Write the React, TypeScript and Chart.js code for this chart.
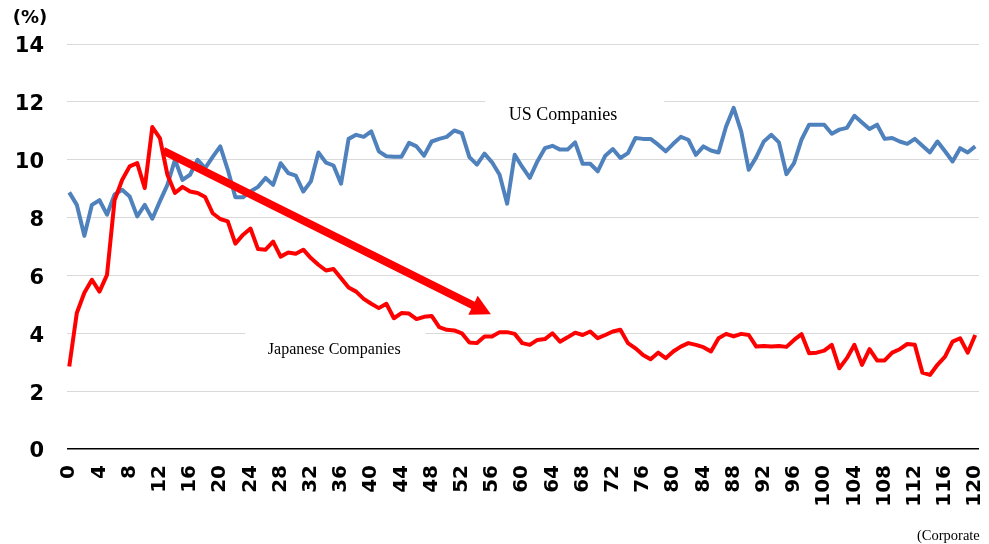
import React, { useEffect, useRef } from "react";
import { Chart, registerables } from "chart.js";

Chart.register(...registerables);

// Categories (years / index 0..120)
const ages: number[] = Array.from({ length: 121 }, (_, i) => i);

// US Companies (%)
const usValues: number[] = [
  8.87, 8.44, 7.37, 8.44, 8.6, 8.1, 8.8, 8.96, 8.73, 8.04,
  8.44, 7.96, 8.56, 9.13, 10.0, 9.3, 9.48, 10.0, 9.71, 10.1,
  10.46, 9.65, 8.7, 8.7, 8.9, 9.06, 9.37, 9.13, 9.88, 9.54,
  9.45, 8.9, 9.25, 10.25, 9.9, 9.8, 9.17, 10.72, 10.86, 10.79,
  10.98, 10.29, 10.12, 10.1, 10.1, 10.58, 10.46, 10.14, 10.63, 10.72,
  10.79, 11.01, 10.92, 10.09, 9.83, 10.21, 9.91, 9.48, 8.48, 10.17,
  9.75, 9.37, 9.94, 10.4, 10.48, 10.35, 10.35, 10.6, 9.86, 9.86,
  9.6, 10.14, 10.37, 10.06, 10.23, 10.75, 10.72, 10.72, 10.52, 10.29,
  10.55, 10.79, 10.69, 10.17, 10.46, 10.32, 10.25, 11.15, 11.79, 10.98,
  9.65, 10.09, 10.63, 10.86, 10.6, 9.5, 9.88, 10.7, 11.21, 11.21,
  11.21, 10.9, 11.04, 11.1, 11.52, 11.29, 11.06, 11.21, 10.72, 10.75,
  10.63, 10.55, 10.72, 10.48, 10.25, 10.63, 10.29, 9.94, 10.4, 10.25,
  10.46,
];

// Japanese Companies (%)
const jpValues: number[] = [
  2.85, 4.7, 5.4, 5.85, 5.44, 6.02, 8.6, 9.3, 9.77, 9.88,
  9.02, 11.13, 10.75, 9.48, 8.85, 9.06, 8.9, 8.85, 8.71, 8.15,
  7.95, 7.87, 7.1, 7.4, 7.62, 6.91, 6.89, 7.17, 6.65, 6.79,
  6.75, 6.89, 6.6, 6.37, 6.17, 6.22, 5.9, 5.58, 5.44, 5.19,
  5.02, 4.87, 5.02, 4.52, 4.7, 4.68, 4.49, 4.57, 4.6, 4.21,
  4.12, 4.1, 4.0, 3.68, 3.66, 3.89, 3.89, 4.04, 4.04, 3.98,
  3.66, 3.6, 3.77, 3.8, 4.0, 3.71, 3.86, 4.02, 3.94, 4.06,
  3.83, 3.94, 4.06, 4.12, 3.66, 3.48, 3.25, 3.1, 3.33, 3.14,
  3.37, 3.54, 3.66, 3.6, 3.52, 3.37, 3.83, 3.98, 3.89, 3.98,
  3.94, 3.54, 3.56, 3.54, 3.56, 3.53, 3.77, 3.97, 3.31, 3.33,
  3.4, 3.6, 2.79, 3.14, 3.6, 2.91, 3.45, 3.06, 3.06, 3.33,
  3.45, 3.63, 3.6, 2.64, 2.56, 2.91, 3.19, 3.71, 3.83, 3.33,
  3.94,
];

// Y axis range / step
const yMin = 0;
const yMax = 14;
const yStep = 2;
const xStep = 4;

// Annotation anchors in data units
const arrowFrom: [number, number] = [12.45, 10.31];
const arrowTo: [number, number] = [55.85, 4.66];

const usLabel = { text: "US Companies", x: 65.4, y: 11.38, box: [55.1, 78.8, 12.35, 11.0] };
const jpLabel = { text: "Japanese Companies", x: 35.1, y: 3.29, box: [23.3, 47.2, 4.3, 2.9] };

const unitLabel = "(%)";
const sourceLabel = "(Corporate";

const annotatePlugin = {
  id: "annotate",
  beforeDatasetsDraw(chart: any) {
    const { ctx, scales } = chart;
    const x = scales.x;
    const y = scales.y;
    ctx.save();
    ctx.fillStyle = "#ffffff";
    for (const l of [usLabel, jpLabel]) {
      const x0 = x.getPixelForValue(l.box[0]);
      const x1 = x.getPixelForValue(l.box[1]);
      const y0 = y.getPixelForValue(l.box[2]);
      const y1 = y.getPixelForValue(l.box[3]);
      ctx.fillRect(x0, y0, x1 - x0, y1 - y0);
    }
    ctx.fillStyle = "#000000";
    ctx.textAlign = "center";
    ctx.textBaseline = "alphabetic";
    ctx.font = '18px "Liberation Serif", "Times New Roman", serif';
    ctx.fillText(usLabel.text, x.getPixelForValue(usLabel.x), y.getPixelForValue(usLabel.y));
    ctx.font = '16px "Liberation Serif", "Times New Roman", serif';
    ctx.fillText(jpLabel.text, x.getPixelForValue(jpLabel.x), y.getPixelForValue(jpLabel.y));
    ctx.restore();
  },
  afterDatasetsDraw(chart: any) {
    const { ctx, scales } = chart;
    const x = scales.x;
    const y = scales.y;
    const px0 = x.getPixelForValue(arrowFrom[0]);
    const py0 = y.getPixelForValue(arrowFrom[1]);
    const px1 = x.getPixelForValue(arrowTo[0]);
    const py1 = y.getPixelForValue(arrowTo[1]);
    const ang = Math.atan2(py1 - py0, px1 - px0);
    const headLen = 20;
    const half = 10.5;
    const bx = px1 - headLen * Math.cos(ang);
    const by = py1 - headLen * Math.sin(ang);
    ctx.save();
    ctx.strokeStyle = "#ff0000";
    ctx.fillStyle = "#ff0000";
    ctx.lineWidth = 8;
    ctx.lineCap = "butt";
    ctx.beginPath();
    ctx.moveTo(px0, py0);
    ctx.lineTo(bx + Math.cos(ang), by + Math.sin(ang));
    ctx.stroke();
    ctx.beginPath();
    ctx.moveTo(px1, py1);
    ctx.lineTo(bx - half * Math.sin(ang), by + half * Math.cos(ang));
    ctx.lineTo(bx + half * Math.sin(ang), by - half * Math.cos(ang));
    ctx.closePath();
    ctx.fill();
    ctx.restore();
  },
  afterDraw(chart: any) {
    const { ctx } = chart;
    ctx.save();
    ctx.fillStyle = "#000000";
    ctx.textAlign = "center";
    ctx.textBaseline = "middle";
    ctx.font = 'bold 18px "DejaVu Sans", Verdana, sans-serif';
    ctx.fillText(unitLabel, 30, 18);
    ctx.textAlign = "left";
    ctx.textBaseline = "alphabetic";
    ctx.font = '14.5px "Liberation Serif", "Times New Roman", serif';
    ctx.fillText(sourceLabel, 917, 540);
    ctx.restore();
  },
};

const yTickFont = { family: '"DejaVu Sans", Verdana, sans-serif', size: 21, weight: "bold" as const };
const xTickFont = { family: '"DejaVu Sans", Verdana, sans-serif', size: 20, weight: "bold" as const };

export default function App() {
  const ref = useRef<HTMLCanvasElement>(null);
  useEffect(() => {
    if (!ref.current) return;
    const chart = new Chart(ref.current, {
      type: "line",
      data: {
        datasets: [
          {
            label: "Japanese Companies",
            data: jpValues.map((v, i) => ({ x: ages[i], y: v })),
            borderColor: "#ff0000",
            borderWidth: 4,
            pointRadius: 0,
            fill: false,
            tension: 0,
            borderJoinStyle: "round",
          },
          {
            label: "US Companies",
            data: usValues.map((v, i) => ({ x: ages[i], y: v })),
            borderColor: "#4f81bd",
            borderWidth: 4,
            pointRadius: 0,
            fill: false,
            tension: 0,
            borderJoinStyle: "round",
          },
        ],
      },
      options: {
        animation: false,
        responsive: false,
        devicePixelRatio: 1,
        layout: { padding: { top: 44, right: 10, left: 0, bottom: 0 } },
        plugins: { legend: { display: false }, tooltip: { enabled: false }, title: { display: false } },
        scales: {
          x: {
            type: "linear",
            min: -0.3,
            max: 120.5,
            grid: { display: false, drawTicks: false },
            border: { display: false },
            ticks: {
              stepSize: xStep,
              includeBounds: false,
              autoSkip: false,
              minRotation: 90,
              maxRotation: 90,
              padding: 16,
              color: "#000000",
              font: xTickFont,
            },
            afterFit: (s: any) => {
              s.height = 95;
              s.paddingLeft = 0;
              s.paddingRight = 0;
            },
          },
          y: {
            min: yMin,
            max: yMax,
            ticks: { stepSize: yStep, padding: 23, labelOffset: 3, color: "#000000", font: yTickFont },
            grid: {
              drawTicks: false,
              color: (c: any) => (c.tick && c.tick.value === 0 ? "#000000" : "#d9d9d9"),
              lineWidth: (c: any) => (c.tick && c.tick.value === 0 ? 1.5 : 1),
            },
            border: { display: false },
            afterFit: (s: any) => {
              s.width = 67;
              s.paddingTop = 0;
              s.paddingBottom = 0;
            },
          },
        },
      },
      plugins: [annotatePlugin],
    } as any);
    return () => chart.destroy();
  }, []);
  return (
    <div style={{ position: "fixed", left: 0, top: 0, width: 989, height: 544, background: "#ffffff" }}>
      <canvas ref={ref} width={989} height={544} style={{ display: "block", width: 989, height: 544 }} />
    </div>
  );
}
